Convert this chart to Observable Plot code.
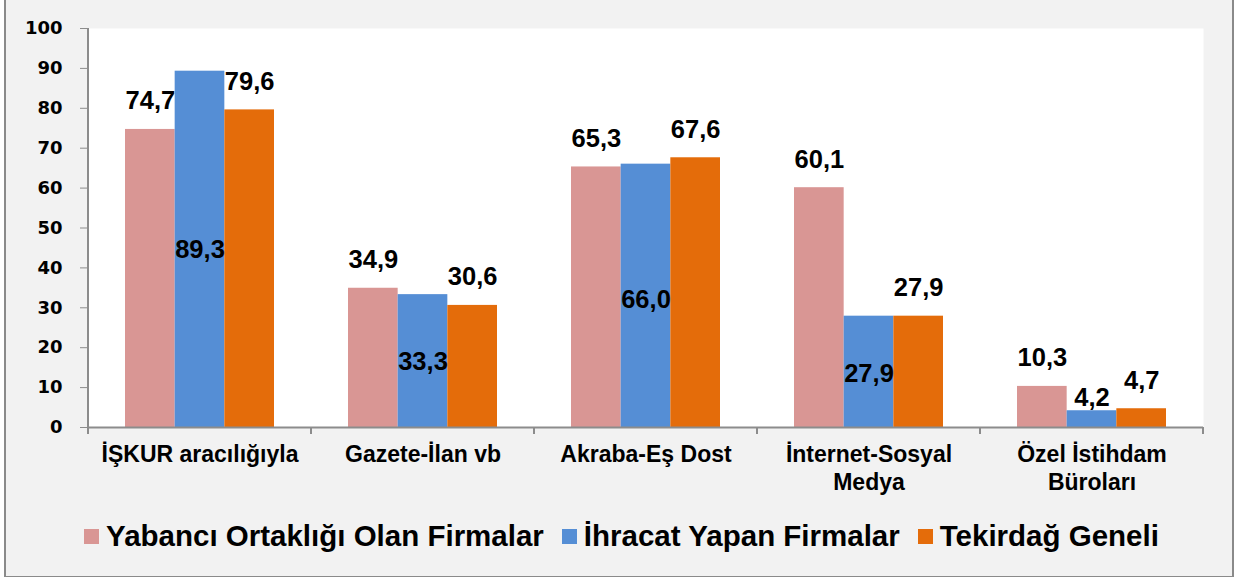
<!DOCTYPE html>
<html>
<head>
<meta charset="utf-8">
<script src="https://cdn.jsdelivr.net/npm/d3@7"></script>
<script src="https://cdn.jsdelivr.net/npm/@observablehq/plot@0.6"></script>
<style>
  html, body { margin: 0; padding: 0; }
  body { width: 1237px; height: 577px; overflow: hidden; position: relative; background: #ffffff;
         font-family: "Liberation Sans", Arial, sans-serif; }
  #box { position: absolute; left: 4px; top: -2px; width: 1230px; height: 580px; box-sizing: border-box;
         border: 2px solid #8a8a8a; background: #f2f2f2; }
  #chart { position: absolute; left: 0; top: 0; }
  #legend { position: absolute; left: 3px; top: 519px; width: 1237px; display: flex; justify-content: center;
            align-items: center; font-weight: bold; font-size: 29.5px; color: #000; }
  .item { display: flex; align-items: center; margin: 0 9px; }
  .sw { width: 15px; height: 15px; margin-right: 7px; }
</style>
</head>
<body>
<div id="box"></div>
<div id="chart"></div>
<div id="legend"></div>
<script>
// ---- data ----
const categories = ["İŞKUR aracılığıyla", "Gazete-İlan vb", "Akraba-Eş Dost", "İnternet-Sosyal Medya", "Özel İstihdam Büroları"];
const categoryLabels = ["İŞKUR aracılığıyla", "Gazete-İlan vb", "Akraba-Eş Dost", "İnternet-Sosyal\nMedya", "Özel İstihdam\nBüroları"];
const seriesNames = ["Yabancı Ortaklığı Olan Firmalar", "İhracat Yapan Firmalar", "Tekirdağ Geneli"];
const yabanciValues = [74.7, 34.9, 65.3, 60.1, 10.3];
const ihracatValues = [89.3, 33.3, 66.0, 27.9, 4.2];
const tekirdagValues = [79.6, 30.6, 67.6, 27.9, 4.7];
// where the İhracat value labels sit (value units)
const ihracatLabelAt = [42.4, 14.5, 30.0, 11.3, 5.5];
const yTicks = [0, 10, 20, 30, 40, 50, 60, 70, 80, 90, 100];

// ---- styles ----
const colors = ["#D99694", "#558ED5", "#E46C0A"];
const W = 1237, H = 500;
const mL = 88, mR = 34, mT = 28, mB = 73;
const step = (W - mL - mR) / categories.length;
const groupPad = 37;
const barW = (step - 2 * groupPad) / 3;
const sans = "'Liberation Sans', Arial, sans-serif";
const wide = "'DejaVu Sans', 'Liberation Sans', sans-serif";

const allValues = [yabanciValues, ihracatValues, tekirdagValues];
const rows = [];
allValues.forEach((vals, s) => vals.forEach((v, i) => rows.push({
  cat: categories[i], series: seriesNames[s], s, value: v,
  labelAt: s === 1 ? ihracatLabelAt[i] : v
})));
const fmt = v => v.toFixed(1).replace(".", ",");

const marks = [Plot.frame({fill: "white", stroke: "none"})];
seriesNames.forEach((name, s) => {
  marks.push(Plot.barY(rows.filter(d => d.s === s), {
    x: "cat", y: "value", fill: colors[s],
    insetLeft: groupPad + s * barW, insetRight: step - groupPad - (s + 1) * barW
  }));
});
seriesNames.forEach((name, s) => {
  marks.push(Plot.text(rows.filter(d => d.s === s), {
    x: "cat", y: "labelAt", text: d => fmt(d.value),
    dx: (s - 1) * barW, dy: s === 1 ? 0 : -20, lineAnchor: "bottom",
    fontSize: 25.5, fontWeight: "bold", fill: "#000", fontFamily: sans
  }));
});
marks.push(Plot.ruleY([0], {stroke: "#8c8c8c", strokeWidth: 2}));
marks.push(Plot.axisY({ticks: yTicks, tickSize: 8, tickPadding: 18, stroke: "#8c8c8c", fill: "#000",
  fontSize: 18, fontWeight: "bold", fontFamily: wide,
  tickFormat: d => String(d)}));
marks.push(Plot.axisX({tickSize: 0, tickPadding: 15, fill: "#000", lineHeight: 1.2,
  tickFormat: d => categoryLabels[categories.indexOf(d)]}));

const chart = Plot.plot({
  width: W, height: H,
  marginLeft: mL, marginRight: mR, marginTop: mT, marginBottom: mB,
  style: {background: "transparent", overflow: "visible"},
  x: {type: "band", domain: categories, padding: 0, label: null},
  y: {domain: [0, 100], label: null},
  marks
});
document.getElementById("chart").appendChild(chart);

const svg = d3.select(chart);
// axis text styling
svg.selectAll('g[aria-label="y-axis tick label"]')
  .attr("font-size", 18).attr("font-weight", "bold").attr("font-family", wide);
svg.selectAll('g[aria-label="x-axis tick label"]')
  .attr("font-size", 23).attr("font-weight", "bold").attr("font-family", sans)
  .style("font-size", "23px").style("font-weight", "bold").style("font-family", sans);

// axis line and category boundary ticks drawn from the library's scales
const xs = chart.scale("x"), ys = chart.scale("y");
const y0 = ys.apply(0), y100 = ys.apply(100);
const x0 = xs.apply(categories[0]);
const g = svg.append("g").attr("stroke", "#8c8c8c").attr("stroke-width", 2);
g.append("line").attr("x1", x0).attr("x2", x0).attr("y1", y0 + 1).attr("y2", y100);
const edges = categories.map(c => xs.apply(c)).concat([xs.apply(categories[categories.length - 1]) + xs.bandwidth]);
edges.forEach(x => g.append("line").attr("x1", x).attr("x2", x).attr("y1", y0).attr("y2", y0 + 7));

// legend
const legend = d3.select("#legend");
seriesNames.forEach((name, s) => {
  const it = legend.append("div").attr("class", "item");
  it.append("div").attr("class", "sw").style("background", colors[s]);
  it.append("span").text(name);
});
</script>
</body>
</html>
